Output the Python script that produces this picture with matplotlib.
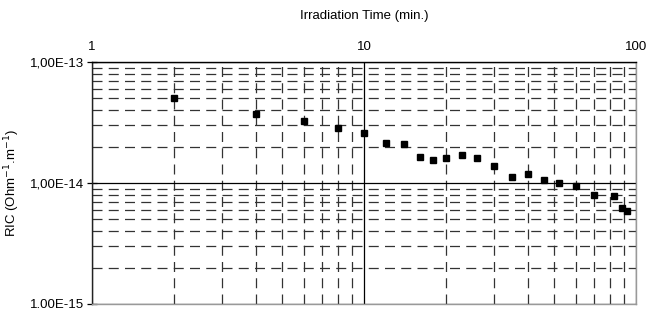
import numpy as np
import matplotlib
matplotlib.use('Agg')
import matplotlib.pyplot as plt
from matplotlib.ticker import FixedLocator, NullFormatter

plt.rcParams['font.family'] = ['Liberation Sans', 'DejaVu Sans']

# irradiation time (min.) and RIC (Ohm^-1.m^-1)
time_min = [2, 4, 6, 8, 10, 12, 14, 16, 18, 20, 23, 26, 30, 35, 40, 46, 52, 60, 70, 83, 89, 93]
ric = [5.0e-14, 3.7e-14, 3.27e-14, 2.86e-14, 2.59e-14, 2.16e-14, 2.09e-14, 1.65e-14,
       1.56e-14, 1.62e-14, 1.69e-14, 1.60e-14, 1.37e-14, 1.13e-14, 1.19e-14, 1.05e-14,
       1.0e-14, 9.5e-15, 7.9e-15, 7.78e-15, 6.24e-15, 5.89e-15]

x_ticks = [1, 10, 100]
x_tick_labels = ['1', '10', '100']
y_ticks = [1e-15, 1e-14, 1e-13]
y_tick_labels = ['1.00E-15', '1,00E-14', '1,00E-13']

fig = plt.figure(figsize=(6.6, 3.09), dpi=100)
ax = fig.add_axes([92 / 660, 1 - 304 / 309, (636 - 92) / 660, (304 - 62) / 309])

ax.set_xscale('log')
ax.set_yscale('log')
ax.set_xlim(1, 100)
ax.set_ylim(1e-15, 1e-13)

# minor dashed grid
xminor = [m * d for d in (1, 10) for m in range(2, 10)]
yminor = [m * d for d in (1e-15, 1e-14) for m in range(2, 10)]
ax.xaxis.set_minor_locator(FixedLocator(xminor))
ax.yaxis.set_minor_locator(FixedLocator(yminor))
ax.xaxis.set_minor_formatter(NullFormatter())
ax.yaxis.set_minor_formatter(NullFormatter())
ax.grid(True, which='minor', color='#333333', linestyle=(0, (8, 5)), linewidth=0.9)
ax.grid(True, which='major', color='black', linestyle='-', linewidth=0.9)

ax.plot(time_min, ric, linestyle='none', marker='s', markersize=4.5, color='black', zorder=5)

ax.xaxis.tick_top()
ax.xaxis.set_label_position('top')
ax.set_xticks(x_ticks)
ax.set_xticklabels(x_tick_labels, fontsize=9.5)
ax.tick_params(axis='x', which='both', length=0, pad=6.5)
ax.set_yticks(y_ticks)
ax.set_yticklabels(y_tick_labels, fontsize=9.5)
ax.tick_params(axis='y', which='major', direction='inout', length=7, width=0.9, pad=2)
ax.tick_params(axis='y', which='minor', length=0)

ax.set_xlabel('Irradiation Time (min.)', fontsize=9.5, labelpad=15.5)
ax.set_ylabel('RIC (Ohm$^{-1}$.m$^{-1}$)', fontsize=9.5, labelpad=6)

ax.spines['top'].set_color('black')
ax.spines['left'].set_color('#222222')
ax.spines['right'].set_color('#999999')
ax.spines['bottom'].set_color('#999999')
for s in ax.spines.values():
    s.set_linewidth(1.0)

fig.savefig('out.png', dpi=100)
